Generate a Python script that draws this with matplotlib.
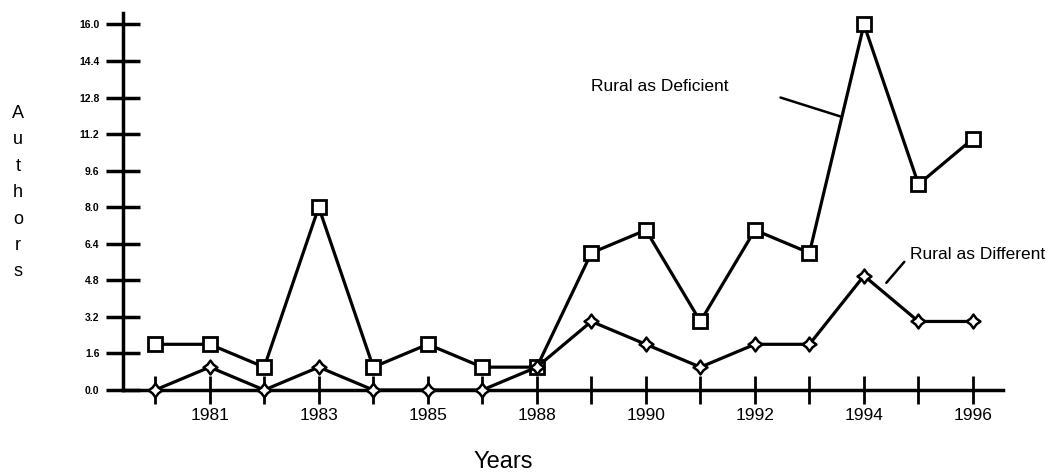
import matplotlib
matplotlib.use("Agg")
import matplotlib.pyplot as plt
from matplotlib.path import Path
import numpy as np

plt.rcParams['font.family'] = ['Liberation Sans', 'DejaVu Sans']

years = ["1980", "1981", "1982", "1983", "1984", "1985", "1987", "1988",
         "1989", "1990", "1991", "1992", "1993", "1994", "1995", "1996"]
shown_labels = ["1981", "1983", "1985", "1988", "1990", "1992", "1994", "1996"]
deficient = [2, 2, 1, 8, 1, 2, 1, 1, 6, 7, 3, 7, 6, 16, 9, 11]
different = [0, 1, 0, 1, 0, 0, 0, 1, 3, 2, 1, 2, 2, 5, 3, 3]
y_ticks = [0.0, 1.6, 3.2, 4.8, 6.4, 8.0, 9.6, 11.2, 12.8, 14.4, 16.0]

W, H = 1054, 475
fig = plt.figure(figsize=(W / 100, H / 100), dpi=100)
ax = fig.add_axes([123 / W, (H - 390) / H, 880 / W, 377 / H])

x = np.arange(len(years))

# concave 4-point diamond marker
s = 0.42
star = Path([(0, 1), (s, s), (1, 0), (s, -s), (0, -1), (-s, -s), (-1, 0), (-s, s), (0, 1)],
            [Path.MOVETO] + [Path.LINETO] * 7 + [Path.CLOSEPOLY])

ax.plot(x, deficient, color='black', lw=2.3, marker='s', ms=9.5, mfc='white',
        mec='black', mew=2.0, clip_on=False, zorder=3)
ax.plot(x, different, color='black', lw=2.3, marker=star, ms=10, mfc='white',
        mec='black', mew=1.8, clip_on=False, zorder=4)

ax.set_xlim(-0.59, 15.55)
ax.set_ylim(0, 16.5)

for side in ['top', 'right']:
    ax.spines[side].set_visible(False)
ax.spines['left'].set_linewidth(2.5)
ax.spines['bottom'].set_linewidth(2.5)

ax.set_yticks(y_ticks)
ax.set_yticklabels([f"{v:.1f}" for v in y_ticks], fontsize=7.5, fontweight='bold')
ax.tick_params(axis='y', direction='inout', length=24, width=2.5, pad=5)

ax.set_xticks(x)
ax.set_xticklabels([y if y in shown_labels else "" for y in years], fontsize=12.5)
ax.tick_params(axis='x', direction='inout', length=20, width=2.0, pad=3)

# vertical stacked axis label
for i, ch in enumerate("Authors"):
    fig.text(18 / W, 1 - (113 + i * 26.5) / H, ch, fontsize=13, ha='center', va='center')

fig.text(503 / W, 1 - 462 / H, "Years", fontsize=17, ha='center', va='center')

# annotations
ax.text(8.0, 13.3, "Rural as Deficient", fontsize=12.5, va='center', ha='left')
ax.annotate("", xy=(12.57, 11.97), xytext=(11.47, 12.8),
            arrowprops=dict(arrowstyle='-', lw=1.8, color='black',
                            shrinkA=0, shrinkB=0),
            annotation_clip=False)
ax.text(13.85, 5.92, "Rural as Different", fontsize=12.5, va='center', ha='left')
ax.annotate("", xy=(13.41, 4.69), xytext=(13.74, 5.61),
            arrowprops=dict(arrowstyle='-', lw=1.8, color='black',
                            shrinkA=0, shrinkB=0),
            annotation_clip=False)

fig.savefig("out.png", dpi=100)
